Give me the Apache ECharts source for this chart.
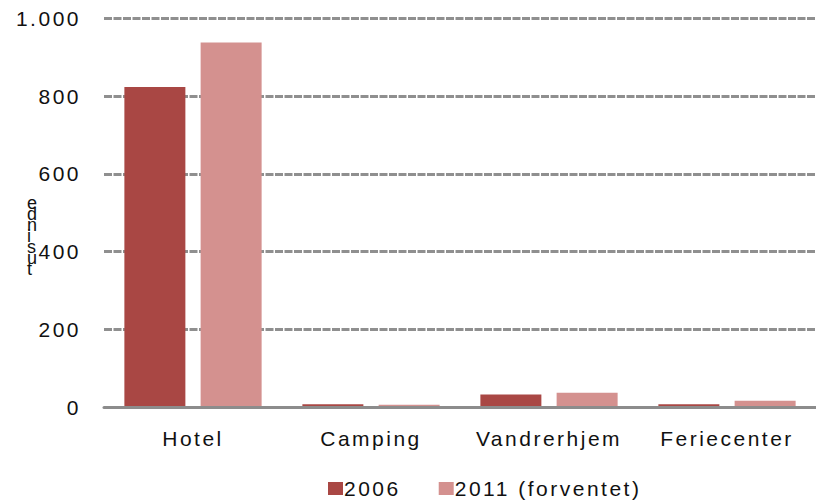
<!DOCTYPE html>
<html>
<head>
<meta charset="utf-8">
<script src="https://cdn.jsdelivr.net/npm/echarts@6/dist/echarts.min.js"></script>
<style>
  html, body { margin: 0; padding: 0; background: #fff; }
  #chart { width: 816px; height: 504px; }
  #chart text { letter-spacing: 2.5px; }
</style>
</head>
<body>
<div id="chart"></div>
<script>
const categories = ['Hotel', 'Camping', 'Vandrerhjem', 'Feriecenter'];
const seriesNames = ['2006', '2011 (forventet)'];
const values2006 = [824, 7, 32, 7];
const values2011 = [938, 6, 37, 16];
const yTicks = [0, 200, 400, 600, 800, 1000];
const yAxisTitle = 'tusinde';

const chart = echarts.init(document.getElementById('chart'), null, { renderer: 'svg' });
const font = 'Liberation Sans, Arial, sans-serif';
const textColor = '#111111';

chart.setOption({
  animation: false,
  backgroundColor: '#ffffff',
  grid: { left: 104, right: -9, top: 18.5, bottom: 97, containLabel: false },
  legend: {
    data: seriesNames,
    left: 323,
    top: 473,
    itemWidth: 15,
    itemHeight: 13,
    itemGap: 48,
    icon: 'rect',
    textStyle: { fontFamily: font, fontSize: 21, color: textColor, padding: [0, 0, 0, -4] }
  },
  graphic: [{
    type: 'text',
    left: 27,
    top: 194,
    style: {
      text: yAxisTitle.split('').reverse().join('\n'),
      fontFamily: font,
      fontSize: 18,
      lineHeight: 11,
      fill: textColor,
      align: 'center'
    }
  }],
  xAxis: {
    type: 'category',
    data: categories,
    z: 3,
    axisLine: { show: true, lineStyle: { color: '#8c8c8c', width: 3 } },
    axisTick: { show: false },
    axisLabel: { fontFamily: font, fontSize: 21, color: textColor, margin: 21 }
  },
  yAxis: {
    type: 'value',
    min: yTicks[0],
    max: yTicks[yTicks.length - 1],
    interval: yTicks[1] - yTicks[0],
    axisLine: { show: false },
    axisTick: { show: false },
    axisLabel: {
      fontFamily: font, fontSize: 21, color: textColor, margin: 23,
      formatter: v => v >= 1000 ? Math.floor(v / 1000) + '.' + String(v % 1000).padStart(3, '0') : String(v)
    },
    splitLine: { show: true, lineStyle: { color: '#8f8f8f', width: 3, type: [8, 1.5] } }
  },
  series: [
    { name: seriesNames[0], type: 'bar', data: values2006, barWidth: 61, barGap: '25%',
      itemStyle: { color: '#a94744' } },
    { name: seriesNames[1], type: 'bar', data: values2011, barWidth: 61, barGap: '25%',
      itemStyle: { color: '#d4918f' } }
  ]
});
</script>
</body>
</html>
